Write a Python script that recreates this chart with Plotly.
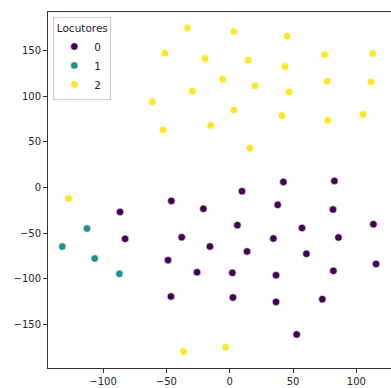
import plotly.graph_objects as go

# Class 0 (purple)
x0 = [-46.1, -86.6, -82.6, -37.9, -48.7, -25.8, -46.4, 9.7, 42.4, 82.7,
      -20.8, 37.9, 81.6, 6.1, 57.1, 113.5, 34.5, 85.9, -15.6, 13.7,
      60.6, 115.6, 2.1, 36.6, 81.9, 2.6, 36.6, 73.2, 52.9]
y0 = [-14.7, -26.7, -56.2, -54.4, -79.5, -92.7, -119.3, -4.0, 6.1, 7.2,
      -23.4, -19.0, -24.1, -41.2, -44.2, -40.2, -55.8, -54.7, -64.6, -70.0,
      -72.6, -83.6, -93.4, -96.0, -91.2, -120.4, -125.2, -122.2, -160.8]

# Class 1 (teal)
x1 = [-112.7, -132.2, -106.6, -87.1]
y1 = [-44.9, -64.6, -77.7, -94.5]

# Class 2 (yellow)
x2 = [-33.4, -51.1, -29.5, -61.1, -52.7, -127.2, 3.4, 45.5, -19.5, 14.7,
      75.0, 113.0, 43.7, -5.5, 20.0, 46.9, 76.9, 111.6, 3.4, -15.0,
      41.3, 77.4, 105.3, 16.0, -36.6, -3.2]
y2 = [174.6, 146.9, 105.4, 93.7, 63.0, -12.0, 170.7, 165.5, 141.1, 139.3,
      145.1, 146.6, 132.4, 118.5, 111.2, 104.6, 116.3, 115.5, 84.9, 67.8,
      78.8, 73.3, 79.9, 43.0, -179.4, -174.7]

labels = ["0", "1", "2"]
colors = ["#440154", "#21918c", "#fde725"]
xs = [x0, x1, x2]
ys = [y0, y1, y2]

fig = go.Figure()
for lab, col, xv, yv in zip(labels, colors, xs, ys):
    fig.add_trace(go.Scatter(
        x=xv, y=yv, mode="markers", name=lab,
        marker=dict(color=col, size=7.5, line=dict(color="white", width=0.6)),
    ))

axis_common = dict(
    showgrid=False, zeroline=False, showline=True, linecolor="#333333",
    linewidth=1, mirror=True, ticks="outside", ticklen=4, tickwidth=1,
    tickcolor="#333333", tickfont=dict(size=10, color="#262626"),
)

fig.update_layout(
    width=391, height=388,
    margin=dict(l=48, r=0, t=12, b=20),
    paper_bgcolor="white", plot_bgcolor="white",
    font=dict(family="DejaVu Sans", size=10, color="#262626"),
    xaxis=dict(range=[-143.5, 127.4], tickmode="linear", tick0=0, dtick=50,
               automargin=False, **axis_common),
    yaxis=dict(range=[-197.5, 192], tickmode="linear", tick0=0, dtick=50,
               automargin=False, **axis_common),
    legend=dict(
        title=dict(text="Locutores", side="top center", font=dict(size=10.5)),
        x=0.0155, y=0.985, xanchor="left", yanchor="top",
        bgcolor="rgba(255,255,255,0.8)", bordercolor="#cccccc", borderwidth=1,
        font=dict(size=10.5), tracegroupgap=0,
    ),
)

fig.write_html(
    "out.html",
    config={"displayModeBar": False},
    post_script="document.body.style.margin='0';document.body.style.overflow='hidden';",
)
